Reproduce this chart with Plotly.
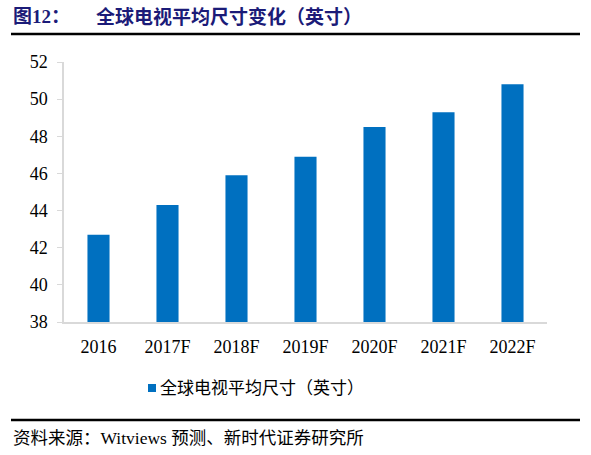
"""
Global TV average screen size, 2016 -> 2022F (inches).
Single-series bar chart, research-report styling.
"""
import plotly.graph_objects as go

YEARS = ["2016", "2017F", "2018F", "2019F", "2020F", "2021F", "2022F"]
AVG_SIZE = [42.7, 44.3, 45.9, 46.9, 48.5, 49.3, 50.8]
Y_TICKS = [38, 40, 42, 44, 46, 48, 50, 52]

TITLE_NO = "图12："
TITLE = "全球电视平均尺寸变化（英寸）"
SERIES = "全球电视平均尺寸（英寸）"
SOURCE = "资料来源：Witviews 预测、新时代证券研究所"

W, H = 591, 455
L, R, T, B = 64, 44, 62, 133
PW, PH = W - L - R, H - T - B

FONT = "Liberation Serif, Noto Sans CJK SC, serif"
BLUE = "#0070C0"
NAVY = "#1b1b78"
GRID = "#D9D9D9"


def px_x(px):
    return (px - L) / PW


def px_y(py):
    return (H - B - py) / PH


fig = go.Figure()
fig.add_trace(
    go.Bar(
        x=YEARS, y=AVG_SIZE, name=SERIES,
        marker=dict(color=BLUE, line=dict(width=0)),
        width=0.32, showlegend=False,
    )
)

# header / footer rules
for py in (34, 420):
    fig.add_shape(
        type="line", xref="paper", yref="paper",
        x0=px_x(11), x1=px_x(580), y0=px_y(py), y1=px_y(py),
        line=dict(color="black", width=2.5),
    )

# legend swatch + label, drawn by hand to keep it tight
fig.add_shape(
    type="rect", xref="paper", yref="paper",
    x0=px_x(148), x1=px_x(156), y0=px_y(392), y1=px_y(384),
    fillcolor=BLUE, line=dict(width=0),
)
fig.add_annotation(
    x=px_x(158), y=px_y(388), xref="paper", yref="paper",
    text=SERIES, showarrow=False,
    xanchor="left", yanchor="middle",
    font=dict(family=FONT, size=17, color="black"),
)

fig.add_annotation(
    x=px_x(11), y=px_y(17), xref="paper", yref="paper",
    text=f"<b>{TITLE_NO}</b>", showarrow=False,
    xanchor="left", yanchor="middle",
    font=dict(family=FONT, size=19, color=NAVY),
)
fig.add_annotation(
    x=px_x(94), y=px_y(17), xref="paper", yref="paper",
    text=f"<b>{TITLE}</b>", showarrow=False,
    xanchor="left", yanchor="middle",
    font=dict(family=FONT, size=19, color=NAVY),
)
fig.add_annotation(
    x=px_x(11), y=px_y(438), xref="paper", yref="paper",
    text=SOURCE, showarrow=False,
    xanchor="left", yanchor="middle",
    font=dict(family=FONT, size=17.5, color="black"),
)

fig.update_layout(
    width=W, height=H,
    margin=dict(l=L, r=R, t=T, b=B),
    paper_bgcolor="white", plot_bgcolor="white",
    font=dict(family=FONT, size=17, color="black"),
    showlegend=False,
    xaxis=dict(
        showline=True, linecolor=GRID, linewidth=1.5,
        ticks="", showgrid=False, ticklabelstandoff=8,
        tickfont=dict(family=FONT, size=18),
    ),
    yaxis=dict(
        range=[38, 52], tickvals=Y_TICKS,
        showline=True, linecolor=GRID, linewidth=1.5,
        ticks="outside", ticklen=5, tickcolor=GRID,
        showgrid=False, zeroline=False, ticklabelstandoff=6,
        tickfont=dict(family=FONT, size=18),
    ),
)

fig.write_html(
    "out.html",
    config={"displayModeBar": False},
    post_script="document.body.style.margin='0';",
)
